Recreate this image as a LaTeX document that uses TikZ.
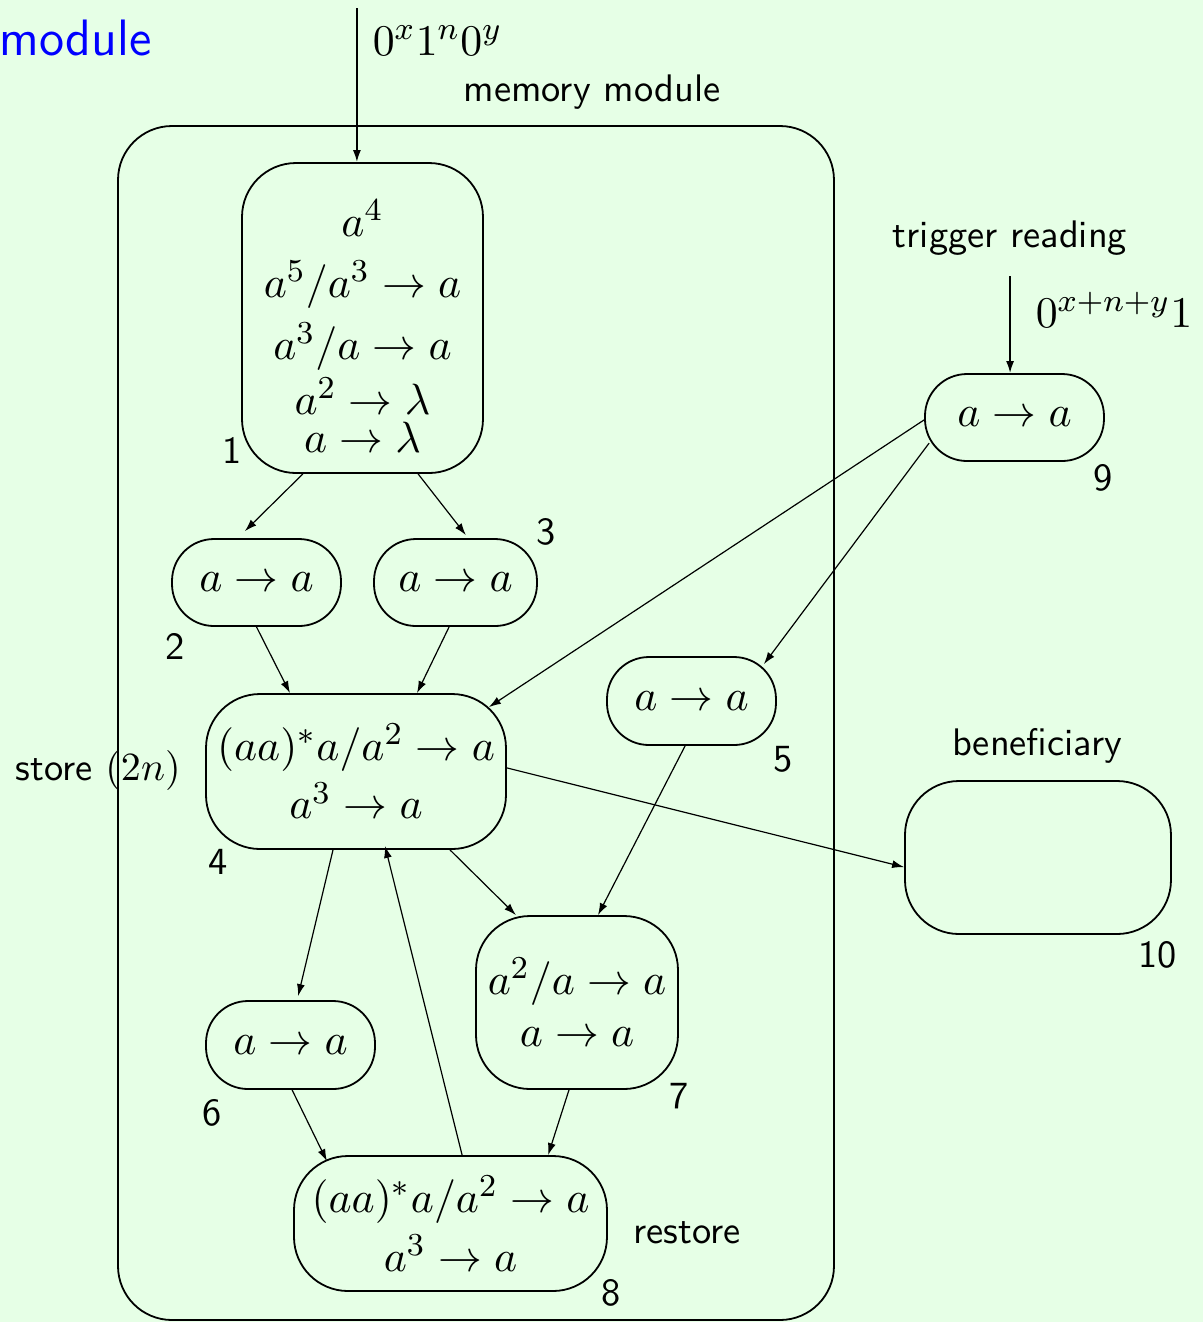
\documentclass[tikz,border=0pt]{standalone}
\usepackage{amsmath}
\usetikzlibrary{arrows.meta}
\definecolor{paper}{RGB}{230,255,230}
\tikzset{
    cell/.style = {
        draw,
        shape=rectangle,
        rounded corners=13.5pt,
        line width=0.45pt,
        align=center,
        inner sep=0pt,
        font=\fontsize{11}{13.6}\selectfont
    },
    smallcell/.style = {
        cell,
        rounded corners=10.5pt
    },
    tag/.style = {
        font=\sffamily\fontsize{9.6}{11.5}\selectfont,
        inner sep=0pt,
        anchor=base
    },
    note/.style = {
        font=\sffamily\fontsize{9.6}{11.5}\selectfont,
        inner sep=0pt,
        anchor=base
    },
    spike/.style = {
        font=\fontsize{11}{13.6}\selectfont,
        inner sep=0pt,
        anchor=base west
    },
    link/.style = {
        ->,
        line width=0.3pt
    },
    feed/.style = {
        ->,
        line width=0.45pt
    },
    >={Latex[length=3pt,width=2pt]},
}

\begin{document}
\begin{tikzpicture}[x=0.25pt,y=-0.25pt]
    \fill[paper] (0,0) rectangle (1203,1322);
    \useasboundingbox (0,0) rectangle (1203,1322);

    % memory module
    \node[cell, minimum width=179pt, minimum height=298.5pt] (mem) at (476,723) {};
    \node[anchor=base west, inner sep=0pt, font=\sffamily\fontsize{12.8}{15}\selectfont, text=blue] (title) at (-1,55) {module};
    \node[note] (memlabel) at (592,101) {memory module};

    \node[cell, minimum width=60.25pt, minimum height=77.5pt] (n1) at (362.5,318)
        {\rule{0pt}{13.3pt}$a^4$\\[1.6pt] $a^5/a^3 \rightarrow a$\\[1.9pt] $a^3/a \rightarrow a$\\[0.2pt]
         $a^2 \rightarrow \lambda$\\[-4.1pt] $a \rightarrow \lambda$};
    \node[smallcell, minimum width=42.25pt, minimum height=21.75pt] (n2) at (256.5,582.5) {$a \rightarrow a$};
    \node[smallcell, minimum width=40.75pt, minimum height=21.75pt] (n3) at (455.5,582.5) {$a \rightarrow a$};
    \node[cell, minimum width=75pt, minimum height=38.75pt] (n4) at (356,771.5)
        {$(aa)^*a/a^2 \rightarrow a$\\[1pt] $a^3 \rightarrow a$};
    \node[smallcell, minimum width=42.25pt, minimum height=22pt] (n5) at (691.5,701) {$a \rightarrow a$};
    \node[smallcell, minimum width=42.25pt, minimum height=22pt] (n6) at (290.5,1045) {$a \rightarrow a$};
    \node[cell, minimum width=50.5pt, minimum height=43.25pt] (n7) at (577,1002.5)
        {$a^2/a \rightarrow a$\\[-0.5pt] $a \rightarrow a$};
    \node[cell, minimum width=78.25pt, minimum height=33.75pt] (n8) at (450.5,1223.5)
        {$(aa)^*a/a^2 \rightarrow a$\\[1.2pt] $a^3 \rightarrow a$};

    % trigger and beneficiary
    \node[smallcell, minimum width=44.75pt, minimum height=21.75pt] (n9) at (1014.5,417.5) {$a \rightarrow a$};
    \node[cell, minimum width=66.5pt, minimum height=38.25pt] (n10) at (1038,857.5) {};

    \node[note] (trig) at (1010,247) {trigger reading};
    \node[note] (benef) at (1037,755) {beneficiary};
    \node[note, anchor=base west] (rest) at (633,1243) {restore};
    \node[note, anchor=base west] (store) at (15,780) {store $(2n)$};

    \node[tag] (t1) at (232,463) {1};
    \node[tag] (t2) at (175,659) {2};
    \node[tag] (t3) at (546,544) {3};
    \node[tag] (t4) at (218,874) {4};
    \node[tag] (t5) at (783,771) {5};
    \node[tag] (t6) at (212,1125) {6};
    \node[tag] (t7) at (679,1108) {7};
    \node[tag] (t8) at (611,1305) {8};
    \node[tag] (t9) at (1103,490) {9};
    \node[tag] (t10) at (1158,967) {10};

    % inputs
    \coordinate (in1) at (357,8);
    \coordinate (in9) at (1010,276);
    \node[spike] (spike1) at (372,55) {$0^x1^n0^y$};
    \node[spike] (spike9) at (1035,327) {$0^{x+n+y}1$};
    \draw[feed] (in1) -- ([xshift=-1.4pt]n1.north);
    \draw[feed] (in9) -- ([xshift=-1.1pt]n9.north);

    % synapses
    \draw[link] ([xshift=-14.9pt]n1.south) -- ([xshift=-2.9pt,yshift=1.75pt]n2.north);
    \draw[link] ([xshift=13.9pt]n1.south) -- ([xshift=2.6pt,yshift=0.75pt]n3.north);
    \draw[link] (n2.south) -- ([xshift=-16.5pt]n4.north);
    \draw[link] ([xshift=-1.6pt]n3.south) -- ([xshift=15.25pt]n4.north);
    \draw[link] ([yshift=-0.6pt]n9.west) -- ([xshift=-4.5pt,yshift=-3.5pt]n4.north east);
    \draw[link] ([xshift=1.25pt,yshift=-6.4pt]n9.west) -- ([xshift=-3.25pt,yshift=-2pt]n5.north east);
    \draw[link] ([yshift=0.9pt]n4.east) -- ([yshift=-2.4pt]n10.west);
    \draw[link] ([xshift=-5.75pt]n4.south) -- ([xshift=1.9pt,yshift=1pt]n6.north);
    \draw[link] ([xshift=23.5pt]n4.south) -- ([xshift=-15.25pt]n7.north);
    \draw[link] ([xshift=-1.6pt]n5.south) -- ([xshift=5.25pt]n7.north);
    \draw[link] ([xshift=2.9pt]n8.north) -- ([xshift=7.25pt,yshift=1pt]n4.south);
    \draw[link] ([xshift=0.4pt]n6.south) -- ([xshift=-30.9pt,yshift=-1.5pt]n8.north);
    \draw[link] ([xshift=-2pt]n7.south) -- ([xshift=24.4pt]n8.north);
\end{tikzpicture}
\end{document}
